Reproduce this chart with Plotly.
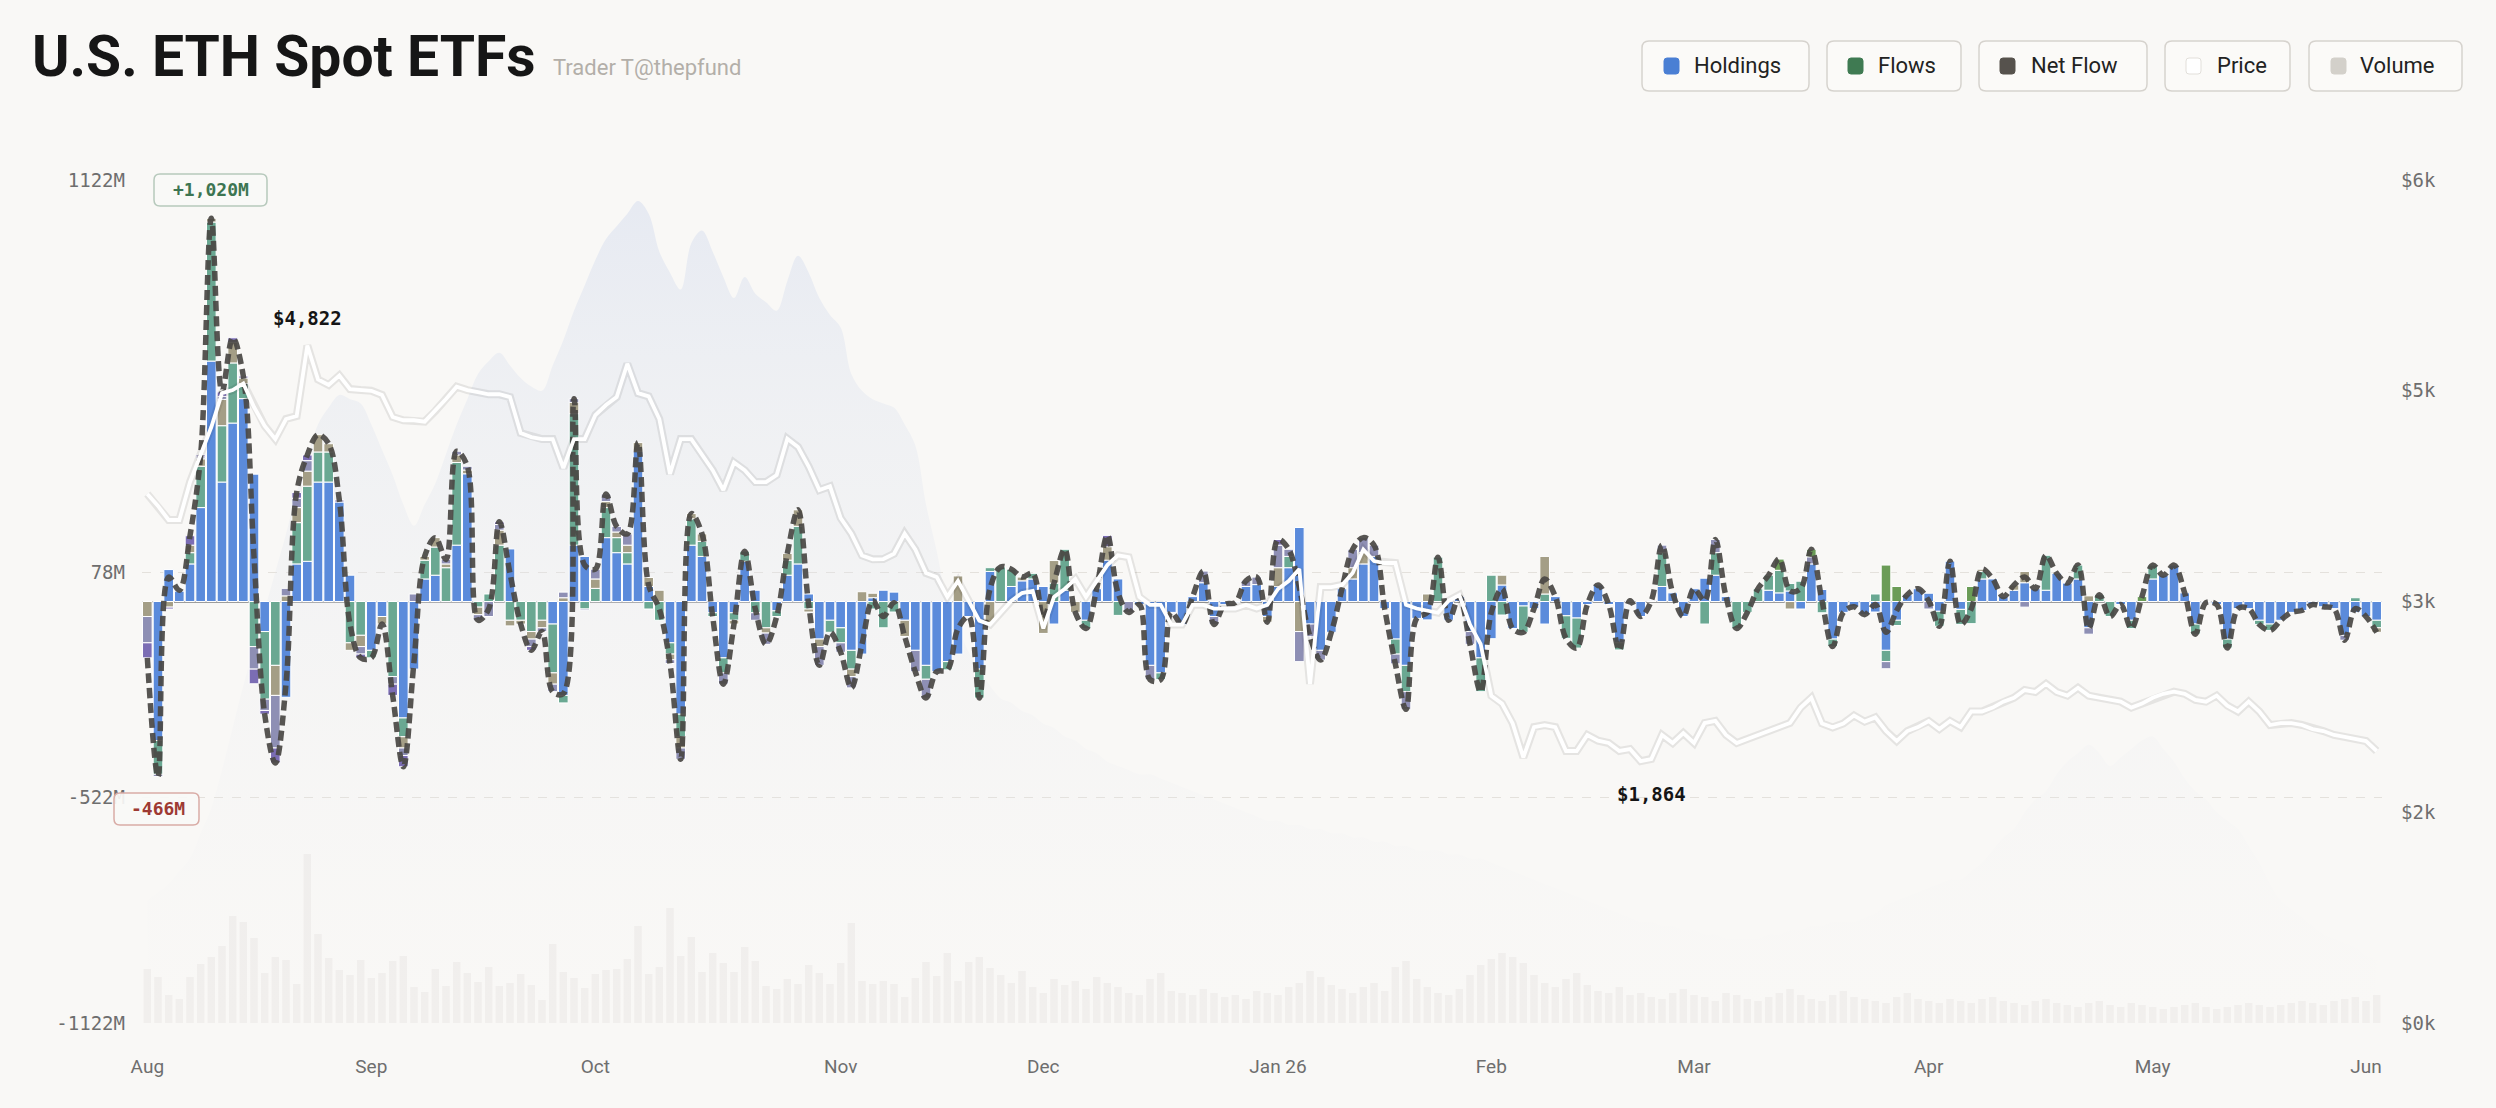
import plotly.graph_objects as go

# ---------------- data ----------------
MONTH_LABELS = ["Aug", "Sep", "Oct", "Nov", "Dec", "Jan 26", "Feb", "Mar", "Apr", "May", "Jun"]
MONTH_START = [0, 21, 42, 65, 84, 106, 126, 145, 167, 188, 208]
DAYS = list(range(210))  # trading-day index, Aug 2025 .. Jun 2026

# daily flows per fund group ($M)
BLUE = [0, -370, 85, 28, 100, 250, 640, 318, 475, 540,
        339, -80, 0, -255, 100, 107, 318, 318, 265, 70,
        0, -130, -40, 0, -310, -180, 60, 70, 0, 150,
        340, 0, 0, 0, 140, 0, 0, 0, -60, -250,
        150, 120, 0, 170, 130, 100, 400, 40, 0, -110,
        -300, 150, 120, -30, -150, -30, 107, 30, 0, -25,
        70, 100, 20, -100, -50, -70, -130, -140, 10, 30,
        25, -50, -130, -170, -187, -160, -140, -40, -180, 80,
        0, 40, 55, 60, 40, -60, 30, 0, -50, 34,
        110, 60, 0, -8, -170, -190, -29, -61, 13, 50,
        -40, -8, -3, 40, 45, -40, 40, 90, 197, -60,
        -130, -82, 34, 60, 100, 120, -19, -100, -170, -45,
        -49, 0, -50, 13, -80, -150, -99, 44, -72, -12,
        -19, -60, 13, -38, -44, -8, 44, -8, -110, 2,
        -40, 2, 40, 23, -40, 34, 62, 70, 13, 0,
        0, 0, 30, 23, 28, -20, 100, 32, -100, -29,
        -14, -35, -28, -130, -50, 18, 34, 22, -26, 107,
        -21, 0, 60, 60, 13, 30, 50, 34, 30, 75,
        49, 60, -70, 0, 0, -8, -50, 0, 60, 70,
        97, 23, -60, -3, -8, -100, -19, -19, -50, -60,
        -50, -29, -24, -8, -14, -19, -90, -29, -40, -50]

TEAL = [0, -90, 0, 0, 30, 110, 370, 150, 160, 40,
        -120, -180, -170, 0, 110, 200, 80, 80, 0, -110,
        -90, -20, 0, -200, -50, 0, 50, 75, 90, 220,
        0, -15, 20, 150, -50, -50, -80, -50, -130, -20,
        350, -20, 35, 80, 40, 30, 0, -20, -50, -30,
        -60, 70, 40, -10, -40, -20, 27, -30, -70, -15,
        40, 100, -20, 0, -32, -40, -50, 0, -20, -70,
        -28, 0, 0, -37, 0, -22, 0, 0, -77, 10,
        92, 46, 0, 15, 0, 49, 109, 0, -22, 0,
        0, -37, 0, 0, 0, -18, 0, 0, 0, 0,
        0, 0, 0, 0, 0, 0, 0, 30, 0, 0,
        0, 0, 0, 0, 0, 0, 0, -40, -70, 0,
        0, 118, 0, 0, 0, -90, 70, -36, 0, -70,
        0, 20, 0, -60, -80, 0, 0, 0, -19, 0,
        0, 0, 90, 0, 0, 0, -60, 60, 0, -72,
        -29, 34, 40, 60, 20, 54, 0, -30, -20, 0,
        0, 0, 20, -30, -14, 0, 0, 0, -40, 0,
        -40, -59, 20, 0, 0, 0, 0, 0, 93, 0,
        0, 37, 0, 18, -40, 0, -22, 0, 37, 0,
        0, 0, -27, 0, 0, -24, 0, 0, -11, -17,
        0, 0, 0, 0, 0, 0, 0, 10, 0, -20]

KHAKI = [-40, 0, -15, 0, 20, 20, 10, 70, 55, 15,
         0, 0, -80, 15, 40, 40, 46, 22, 0, -20,
         -30, 0, -20, 0, -30, 0, 10, 25, 10, 20,
         10, -20, 0, 40, -15, -10, -20, -20, -30, 10,
         30, 0, 25, 16, 15, 20, 23, 24, 30, -15,
         -30, 14, 20, 0, 0, -10, 0, 0, -14, 0,
         18, 44, -8, -20, 0, 0, -20, 26, 12, 0,
         0, -43, 0, 0, 0, 0, 68, 0, 0, -56,
         0, 0, 10, 0, -85, 60, 0, -29, 0, 0,
         36, 0, 0, 0, 0, 0, 0, 0, 0, 0,
         0, 0, 0, 0, 0, -15, 50, 0, -80, 0,
         0, 0, 0, 30, 30, 0, 0, 0, 0, 0,
         20, 0, 0, 0, 0, 0, 0, 26, 0, 0,
         0, 100, 0, 0, 0, 0, 0, 0, 0, 0,
         0, 0, 0, 0, 0, 0, 0, 0, 0, 0,
         0, 0, 0, 0, -20, 0, 0, 0, 0, 0,
         0, 0, 0, 0, 0, 0, 0, 0, 0, 0,
         0, 0, 6, 0, 0, 14, 30, 0, 0, 0,
         0, 0, 15, 0, 0, 0, 0, 0, 0, 0,
         0, 0, 0, 0, 0, 0, 0, 0, 0, 0,
         0, 0, 0, 0, 0, 0, 0, 0, 0, -12]

LAV = [-70, -6, 0, 0, 0, 5, 0, 8, 0, 0,
       -60, -30, -140, 20, 25, 28, 0, 0, 0, 0,
       -20, 0, 0, -20, -20, 20, 0, 0, 12, 10,
       10, -15, -40, 15, 0, 0, -20, -10, -20, 15,
       10, -3, 26, 20, 15, 30, 0, 0, 0, -10,
       -30, 0, 0, 0, -30, 0, 0, -20, -30, 0,
       0, 0, 0, -50, 0, -25, -30, 0, 0, 0,
       0, 0, -57, -50, 0, 0, 0, 0, 0, 0,
       0, 0, 0, 0, 0, 0, 0, 0, 0, 0,
       0, 0, -29, 0, -38, 0, 0, 0, 0, 31,
       -21, 0, 0, 15, 20, 0, 60, 19, -80, -33,
       -26, 0, 0, 49, 40, 30, 0, -26, -47, 0,
       0, 0, 0, 0, -34, 0, 0, 0, 0, 0,
       0, 0, 0, 0, 0, 0, 0, 0, 0, 0,
       0, 0, 20, 0, 0, 0, 0, 35, 0, 0,
       0, 0, 0, 0, 0, 0, 19, 0, 0, 0,
       0, 0, 0, -19, 0, 0, 0, -20, 0, 0,
       0, 0, 0, 0, 0, 0, -15, 0, 0, 0,
       0, 0, -17, 0, 0, 0, 0, 0, 0, 0,
       0, 0, 0, 0, 0, 0, 0, 0, 0, 0,
       0, 0, 0, 0, 0, 0, -13, 0, 0, 0]

PURPLE = [-40, 0, -5, 2, 25, 5, 0, 12, 12, 5,
          -39, -10, -40, 0, 15, 15, 0, 0, 5, 0,
          -10, 0, 0, -30, -30, 0, 0, 0, 0, 0,
          0, 0, 0, 7, 0, 0, -10, 0, 0, 0,
          0, 0, 0, 0, 0, 0, 0, 0, 0, 0,
          0, 0, 0, 0, 0, 0, 0, 0, 0, 0,
          0, 0, 0, 0, 0, 0, 0, 0, 0, 0,
          0, 0, 0, 0, 0, 0, 0, 0, 0, 0,
          0, 0, 0, 0, 0, 0, 0, 0, 0, 0,
          30, 0, 0, 0, 0, 0, 0, 0, 0, 0,
          0, 0, 0, 0, 0, 0, 15, 0, 0, 0,
          0, 0, 0, 0, 0, 0, 0, 0, 0, 0,
          0, 0, 0, 0, 0, 0, 0, 0, 0, 0,
          0, 0, 0, 0, 0, 0, 0, 0, 0, 0,
          0, 0, 0, 0, 0, 0, 0, 0, 0, 0,
          0, 0, 0, 0, 0, 0, 0, 0, 0, 0,
          0, 0, 0, 0, 0, 0, 0, 0, 0, 0,
          0, 0, 0, 0, 0, 0, 0, 0, 0, 0,
          0, 0, 0, 0, 0, 0, 0, 0, 0, 0,
          0, 0, 0, 0, 0, 0, 0, 0, 0, 0,
          0, 0, 0, 0, 0, 0, 0, 0, 0, 0]

GREEN = [0] * 150 + [0, 0, 0, 30, 0, 0, 20, 0, 0, 0,
                     0, 0, 0, 97, 40, 0, 0, 0, 0, 0,
                     0, 40, 0, 0, 0, 0, 0, 0, 0, 0,
                     0, 0, 0, 0, 0, 0, 0, 13, 0, 0,
                     0, 0, 0, 0, 0, 0, 0, 0, 0, 0,
                     0, 0, 0, 0, 0, 0, 0, 0, 0, 0]

NET = [-150, -466, 65, 30, 175, 390, 1020, 558, 702, 600,
       120, -300, -430, -220, 290, 390, 444, 420, 270, -60,
       -150, -150, -60, -250, -440, -160, 120, 170, 112, 400,
       360, -50, -20, 212, 75, -60, -130, -80, -240, -245,
       540, 97, 86, 286, 200, 180, 423, 44, -20, -165,
       -420, 234, 180, -40, -220, -60, 134, -20, -114, -40,
       128, 244, -8, -170, -82, -135, -230, -114, 2, -40,
       -3, -93, -187, -257, -187, -182, -72, -40, -257, 34,
       92, 86, 65, 75, -45, 49, 139, -29, -72, 34,
       176, 23, -29, -8, -208, -208, -29, -61, 13, 81,
       -61, -8, -3, 55, 65, -55, 165, 139, 37, -93,
       -156, -82, 34, 139, 170, 150, -19, -166, -287, -45,
       -29, 118, -50, 13, -114, -240, -29, 34, -72, -82,
       -19, 60, 13, -98, -124, -8, 44, -8, -129, 2,
       -40, 2, 150, 23, -40, 34, 2, 165, 13, -72,
       -29, 34, 70, 113, 28, 34, 139, 2, -120, -29,
       -14, -35, -8, -82, -24, 18, 34, 2, -66, 107,
       -61, -19, 86, 60, 13, 44, 65, 34, 123, 75,
       49, 97, -72, 18, -40, -8, -72, 13, 97, 70,
       97, 23, -87, -3, -8, -124, -19, -19, -61, -77,
       -50, -29, -24, -8, -14, -19, -103, -19, -40, -82]

PRICE = [3765, 3680, 3580, 3580, 3850, 4050, 4242, 4483, 4505, 4552,
         4384, 4250, 4156, 4299, 4320, 4822, 4580, 4541, 4608, 4512,
         4505, 4500, 4470, 4313, 4290, 4290, 4280, 4356, 4441, 4529,
         4505, 4490, 4475, 4475, 4455, 4199, 4170, 4156, 4156, 3950,
         4156, 4156, 4327, 4398, 4455, 4692, 4483, 4460, 4299, 3907,
         4156, 4156, 4050, 3935, 3793, 3989, 3935, 3850, 3850, 3900,
         4158, 4100, 3961, 3793, 3820, 3594, 3483, 3328, 3300, 3302,
         3340, 3483, 3370, 3203, 3175, 3033, 3146, 3005, 2864, 2836,
         2920, 3005, 3060, 3075, 2808, 3033, 3089, 3160, 3033, 3146,
         3259, 3329, 3315, 3033, 2976, 2976, 2836, 2836, 2976, 2976,
         2950, 2950, 2950, 2976, 2950, 2976, 3089, 3146, 3231, 2413,
         3103, 3103, 3118, 3203, 3370, 3288, 3274, 3274, 2976, 2950,
         2935, 2920, 3005, 3046, 2836, 2697, 2329, 2273, 2132, 1890,
         2106, 2120, 2106, 1936, 1936, 2050, 2010, 1993, 1936, 1950,
         1864, 1879, 2050, 1993, 2064, 1993, 2135, 2150, 2050, 1993,
         2022, 2050, 2078, 2106, 2135, 2245, 2315, 2132, 2104, 2132,
         2188, 2145, 2175, 2078, 2007, 2078, 2106, 2149, 2092, 2149,
         2106, 2217, 2217, 2245, 2287, 2315, 2370, 2356, 2414, 2356,
         2330, 2386, 2330, 2315, 2300, 2287, 2245, 2273, 2315, 2343,
         2358, 2343, 2300, 2287, 2330, 2259, 2217, 2287, 2217, 2121,
         2135, 2135, 2121, 2092, 2078, 2050, 2036, 2021, 2007, 1936]

VOLUME = [54, 46, 28, 24, 46, 59, 66, 77, 107, 101,
          85, 50, 66, 63, 39, 169, 89, 65, 53, 48,
          63, 45, 50, 62, 67, 36, 31, 54, 37, 61,
          50, 41, 56, 37, 40, 49, 38, 23, 79, 51,
          45, 35, 49, 53, 54, 64, 97, 49, 56, 115,
          67, 86, 51, 70, 60, 51, 76, 62, 37, 34,
          44, 39, 58, 50, 39, 60, 100, 42, 39, 42,
          39, 26, 45, 61, 47, 70, 42, 61, 66, 55,
          48, 40, 52, 36, 30, 44, 38, 42, 34, 46,
          40, 36, 30, 28, 44, 50, 32, 30, 28, 34,
          30, 26, 28, 24, 32, 30, 28, 36, 40, 52,
          46, 38, 34, 30, 36, 40, 32, 56, 62, 44,
          36, 30, 28, 34, 48, 58, 64, 70, 66, 60,
          48, 40, 36, 44, 50, 38, 32, 30, 36, 28,
          30, 26, 24, 30, 34, 28, 26, 22, 30, 28,
          24, 22, 26, 30, 34, 28, 24, 22, 28, 32,
          26, 24, 22, 20, 26, 30, 24, 22, 20, 24,
          22, 20, 24, 26, 22, 20, 18, 22, 24, 20,
          18, 16, 20, 22, 18, 16, 20, 18, 16, 14,
          16, 18, 20, 16, 14, 16, 18, 20, 18, 16,
          18, 20, 22, 20, 18, 22, 24, 26, 22, 28]  # $10M

HOLDINGS = [2.9, 3.1, 3.3, 3.6, 3.9, 4.5, 5.1, 6.0, 7.0, 8.0,
            8.9, 9.8, 10.7, 11.6, 12.6, 13.4, 14.2, 14.6, 14.9, 14.8,
            14.7, 14.2, 13.6, 13.0, 12.3, 11.8, 12.3, 12.8, 13.5, 14.2,
            14.8, 15.4, 15.7, 15.9, 15.6, 15.3, 15.1, 15.0, 15.6, 16.2,
            16.9, 17.5, 18.1, 18.6, 18.9, 19.2, 19.5, 19.2, 18.3, 17.8,
            17.4, 18.5, 18.8, 18.3, 17.7, 17.2, 17.7, 17.3, 17.1, 16.9,
            17.6, 18.2, 17.8, 17.2, 16.8, 16.5, 15.4, 15.0, 14.8, 14.7,
            14.6, 14.2, 13.7, 12.3, 11.2, 10.0, 9.4, 8.8, 8.4, 8.0,
            7.7, 7.6, 7.4, 7.3, 7.1, 7.0, 6.8, 6.7, 6.5, 6.4,
            6.2, 6.1, 6.0, 5.9, 5.9, 5.8, 5.7, 5.6, 5.5, 5.4,
            5.3, 5.2, 5.1, 5.0, 4.9, 4.8, 4.8, 4.7, 4.7, 4.6,
            4.6, 4.5, 4.5, 4.4, 4.4, 4.3, 4.3, 4.2, 4.2, 4.1,
            4.1, 4.1, 4.0, 4.0, 3.9, 3.9, 3.8, 3.7, 3.6, 3.5,
            3.4, 3.3, 3.2, 3.1, 3.0, 2.9, 2.8, 2.7, 2.6, 2.5,
            2.4, 2.4, 2.3, 2.3, 2.2, 2.2, 2.1, 2.1, 2.0, 2.0,
            2.0, 2.0, 2.1, 2.1, 2.2, 2.2, 2.3, 2.3, 2.4, 2.4,
            2.4, 2.5, 2.6, 2.8, 2.9, 3.0, 3.1, 3.2, 3.3, 3.4,
            3.4, 3.6, 3.8, 4.1, 4.4, 4.6, 5.0, 5.3, 5.5, 5.9,
            6.2, 6.4, 6.6, 6.4, 6.1, 6.3, 6.5, 6.7, 6.8, 6.5,
            6.2, 5.8, 5.5, 5.3, 5.0, 4.8, 4.6, 4.2, 3.8, 3.3,
            2.9, 2.7, 2.5, 2.3, 2.1, 2.0, 1.9, 1.8, 1.6, 1.5]  # $B

FLOW_TICKS = [-1122, -522, 78, 1122]
PRICE_TICKS = [0, 1500, 3000, 4500, 6000]
PRICE_TICK_TEXT = ["$0k", "$2k", "$3k", "$5k", "$6k"]

# ---------------- layout helpers (pixel -> paper) ----------------
W, H = 2496, 1108
L, R, T, B = 142, 114, 180, 85
PW, PH = W - L - R, H - T - B


def px(x):
    return (x - L) / PW


def py(y):
    return (H - B - y) / PH


def rrect(x0, y0, x1, y1, r=7):
    X, Y = px, py
    return (f"M {X(x0 + r)},{Y(y0)} L {X(x1 - r)},{Y(y0)} Q {X(x1)},{Y(y0)} {X(x1)},{Y(y0 + r)} "
            f"L {X(x1)},{Y(y1 - r)} Q {X(x1)},{Y(y1)} {X(x1 - r)},{Y(y1)} "
            f"L {X(x0 + r)},{Y(y1)} Q {X(x0)},{Y(y1)} {X(x0)},{Y(y1 - r)} "
            f"L {X(x0)},{Y(y0 + r)} Q {X(x0)},{Y(y0)} {X(x0 + r)},{Y(y0)} Z")


def nz(vals):
    return [v if v else None for v in vals]


MONO = "DejaVu Sans Mono"
SANS = "Roboto"
BG = "#f9f8f6"

fig = go.Figure()

# holdings area (background, very faint)
fig.add_trace(go.Scatter(
    x=DAYS, y=HOLDINGS, mode="lines", line=dict(width=0, shape="spline", smoothing=1.0),
    fill="tozeroy",
    fillgradient=dict(type="vertical",
                      colorscale=[[0, "rgba(238,239,242,0.0)"], [0.4, "rgba(228,231,238,0.18)"],
                                  [0.75, "rgba(220,226,238,0.35)"], [1, "rgba(212,220,238,0.5)"]]),
    yaxis="y", hoverinfo="skip"))

# volume bars
fig.add_trace(go.Bar(x=DAYS, y=VOLUME, yaxis="y2", width=0.7,
                     marker=dict(color="rgba(60,50,40,0.045)", line=dict(width=0)), hoverinfo="skip"))

# stacked flows
for vals, col in [(BLUE, "#5b8bdb"), (TEAL, "#6aa892"), (KHAKI, "#a49e86"),
                  (LAV, "#8e8fb4"), (PURPLE, "#7b6db4"), (GREEN, "#6b9c57")]:
    fig.add_trace(go.Bar(x=DAYS, y=nz(vals), yaxis="y3", width=0.9,
                         marker=dict(color=col, line=dict(color="white", width=1))))

# net flow dashed spline
fig.add_trace(go.Scatter(x=DAYS, y=NET, yaxis="y3", mode="lines",
                         line=dict(color="rgba(74,72,69,0.93)", width=5.5, dash="10px,5px",
                                   shape="spline", smoothing=1.0)))

# price line with soft shadow
fig.add_trace(go.Scatter(x=DAYS, y=PRICE, yaxis="y4", mode="lines",
                         line=dict(color="rgba(0,0,0,0.08)", width=8)))
fig.add_trace(go.Scatter(x=DAYS, y=PRICE, yaxis="y4", mode="lines",
                         line=dict(color="#ffffff", width=3.8)))

axis_font = dict(family=MONO, size=19, color="#6e6e6e")
fig.update_layout(
    width=W, height=H, margin=dict(l=L, r=R, t=T, b=B),
    paper_bgcolor=BG, plot_bgcolor=BG, barmode="relative", showlegend=False,
    xaxis=dict(range=[-0.5, 209.5], tickvals=MONTH_START, ticktext=MONTH_LABELS,
               showgrid=False, zeroline=False, showline=False, ticks="",
               tickfont=dict(family=SANS, size=19, color="#6e6e6e"), ticklabelstandoff=30),
    yaxis=dict(range=[0, 20], visible=False),
    yaxis2=dict(range=[0, 843], overlaying="y", visible=False),
    yaxis3=dict(range=[-1122, 1122], overlaying="y", side="left",
                tickvals=FLOW_TICKS, ticktext=[f"{v}M" for v in FLOW_TICKS],
                showgrid=True, gridcolor="#e4e1dc", griddash="dash", gridwidth=1,
                zeroline=True, zerolinecolor="#9c9c9c", zerolinewidth=2,
                ticks="", tickfont=axis_font, ticklabelstandoff=16),
    yaxis4=dict(range=[0, 6000], overlaying="y", side="right",
                tickvals=PRICE_TICKS, ticktext=PRICE_TICK_TEXT,
                showgrid=False, zeroline=False, ticks="", tickfont=axis_font,
                ticklabelstandoff=18),
)

shapes = []
annotations = []

# title
annotations.append(dict(xref="paper", yref="paper", x=px(30), y=py(57), xanchor="left", yanchor="middle",
                        text="<b>U.S. ETH Spot ETFs</b>", showarrow=False,
                        font=dict(family=SANS, size=57, color="#161616")))
annotations.append(dict(xref="paper", yref="paper", x=px(551), y=py(68), xanchor="left", yanchor="middle",
                        text="Trader T@thepfund", showarrow=False,
                        font=dict(family=SANS, size=22, color="#b3afa9")))

# legend buttons
LEGEND = [("Holdings", "#4a7fd4", 1642, 1809, 1664, 1692),
          ("Flows", "#3f7a52", 1827, 1961, 1848, 1876),
          ("Net Flow", "#56524d", 1979, 2147, 2000, 2029),
          ("Price", "#ffffff", 2165, 2290, 2186, 2215),
          ("Volume", "#d3d0ca", 2309, 2462, 2331, 2358)]
for name, col, bx0, bx1, mx, tx in LEGEND:
    shapes.append(dict(type="path", xref="paper", yref="paper", path=rrect(bx0, 41, bx1, 91, 7),
                       fillcolor="#fbfaf8", line=dict(color="#d6d3ce", width=1.5), layer="above"))
    shapes.append(dict(type="path", xref="paper", yref="paper", path=rrect(mx, 58, mx + 15, 74, 3),
                       fillcolor=col, line=dict(color="#e2dfda" if col == "#ffffff" else col, width=1),
                       layer="above"))
    annotations.append(dict(xref="paper", yref="paper", x=px(tx), y=py(66), xanchor="left", yanchor="middle",
                            text=name, showarrow=False, font=dict(family=SANS, size=22, color="#222222")))

# extreme-value badges
shapes.append(dict(type="path", xref="paper", yref="paper", path=rrect(154, 174, 267, 206, 6),
                   fillcolor="rgba(249,248,246,0.92)", line=dict(color="#b7c9bc", width=1.5), layer="above"))
annotations.append(dict(xref="x", yref="paper", x=DAYS[6], y=py(190), xanchor="center", yanchor="middle",
                        text="<b>+1,020M</b>", showarrow=False,
                        font=dict(family=MONO, size=18, color="#3d7552")))
shapes.append(dict(type="path", xref="paper", yref="paper", path=rrect(114, 793, 199, 825, 6),
                   fillcolor="rgba(249,248,246,0.92)", line=dict(color="#d9aca6", width=1.5), layer="above"))
annotations.append(dict(xref="x", yref="paper", x=DAYS[1], y=py(809), xanchor="center", yanchor="middle",
                        text="<b>-466M</b>", showarrow=False,
                        font=dict(family=MONO, size=18, color="#9e3a33")))

# price extremes
annotations.append(dict(xref="x", yref="paper", x=DAYS[15], y=py(318), xanchor="center", yanchor="middle",
                        text="<b>$4,822</b>", showarrow=False, font=dict(family=MONO, size=19, color="#151515")))
annotations.append(dict(xref="x", yref="paper", x=DAYS[141], y=py(794), xanchor="center", yanchor="middle",
                        text="<b>$1,864</b>", showarrow=False, font=dict(family=MONO, size=19, color="#151515")))

fig.update_layout(shapes=shapes, annotations=annotations)
fig.write_html("out.html")
